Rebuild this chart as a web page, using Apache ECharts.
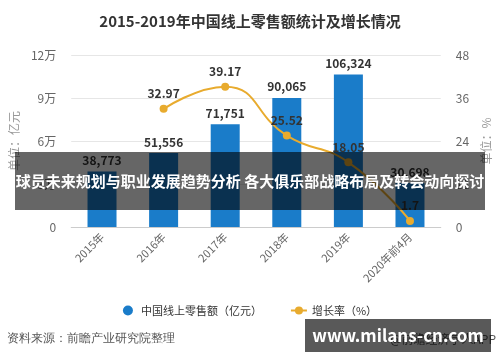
<!DOCTYPE html>
<html><head><meta charset="utf-8">
<script src="https://cdn.jsdelivr.net/npm/echarts@6/dist/echarts.min.js"></script>
<style>html,body{margin:0;padding:0;background:#fff}#c{width:500px;height:362px}</style>
</head><body><div id="c"></div>
<script>
const categories = ['2015年','2016年','2017年','2018年','2019年','2020年前4月'];
const retailSales = [38773, 51556, 71751, 90065, 106324, 30698];
const growthRate = [null, 32.97, 39.17, 25.52, 18.05, 1.7];
const leftTicks = {0:'0',30000:'3万',60000:'6万',90000:'9万',120000:'12万'};

const chart = echarts.init(document.getElementById('c'));
const font = '"Noto Sans CJK SC","Microsoft YaHei",sans-serif';
chart.setOption({
  animation:false,
  textStyle:{fontFamily:font},
  title:{text:'2015-2019年中国线上零售额统计及增长情况',left:'center',top:9,
    textStyle:{fontSize:15,fontWeight:'bold',color:'#333',fontFamily:font}},
  legend:{bottom:41,left:'center',itemGap:28,itemWidth:16,itemHeight:10,
    textStyle:{fontSize:11,color:'#333',fontFamily:font},
    data:[{name:'中国线上零售额（亿元）',icon:'circle'},{name:'增长率（%）'}]},
  grid:{left:70,right:58,top:55,bottom:135},
  xAxis:{type:'category',data:categories,
    axisLine:{lineStyle:{color:'#ccc'}},
    axisTick:{alignWithLabel:true,lineStyle:{color:'#ccc'}},
    axisLabel:{rotate:45,fontSize:11,color:'#666',margin:8,interval:0}},
  yAxis:[{type:'value',min:0,max:120000,interval:30000,
      name:'单位：亿元',nameLocation:'middle',nameGap:41,
      nameTextStyle:{color:'#999',fontSize:12},
      axisLine:{show:false},axisTick:{show:false},
      axisLabel:{color:'#666',fontSize:12,margin:15,formatter:v=>leftTicks[v]},
      splitLine:{lineStyle:{color:'#e6e6e6'}}},
    {type:'value',min:0,max:48,interval:12,
      name:'单位：%',nameLocation:'middle',nameGap:33,
      nameTextStyle:{color:'#999',fontSize:12},
      axisLine:{show:false},axisTick:{show:false},
      axisLabel:{color:'#666',fontSize:12,margin:15},
      splitLine:{show:false}}],
  series:[
    {name:'中国线上零售额（亿元）',type:'bar',data:retailSales,barWidth:29,
      itemStyle:{color:'#1a7cc9'},
      label:{show:true,position:'top',fontSize:12,fontWeight:'bold',color:'#333',
        formatter:p=>p.value.toLocaleString('en-US')}},
    {name:'增长率（%）',type:'line',yAxisIndex:1,data:growthRate,smooth:true,
      symbol:'circle',symbolSize:8,showSymbol:true,connectNulls:false,
      lineStyle:{color:'#e8ab2e',width:2},itemStyle:{color:'#e8ab2e'},
      label:{show:true,position:'top',fontSize:12,fontWeight:'bold',color:'#333'}}
  ],
  graphic:[
    {type:'text',left:7,top:333,style:{text:'资料来源：前瞻产业研究院整理',fontSize:12,fill:'#555',font:'12px '+font}},
    {type:'text',right:4,top:333,style:{text:'@前瞻经济学人APP',fill:'#555',font:'12px '+font}},
    {type:'rect',shape:{x:15,y:152,width:470,height:58},style:{fill:'rgba(0,0,0,0.6)'},z:100},
    {type:'text',x:250,y:181,style:{text:'球员未来规划与职业发展趋势分析 各大俱乐部战略布局及转会动向探讨',
      fill:'#fff',font:'bold 15px '+font,align:'center',verticalAlign:'middle'},z:101},
    {type:'rect',shape:{x:305,y:319,width:186,height:33},style:{fill:'rgba(0,0,0,0.65)'},z:100},
    {type:'text',x:398,y:336,style:{text:'www.milans-cn.com',fill:'#fff',
      font:'bold 17px '+font,align:'center',verticalAlign:'middle'},z:101}
  ]
});
</script></body></html>
